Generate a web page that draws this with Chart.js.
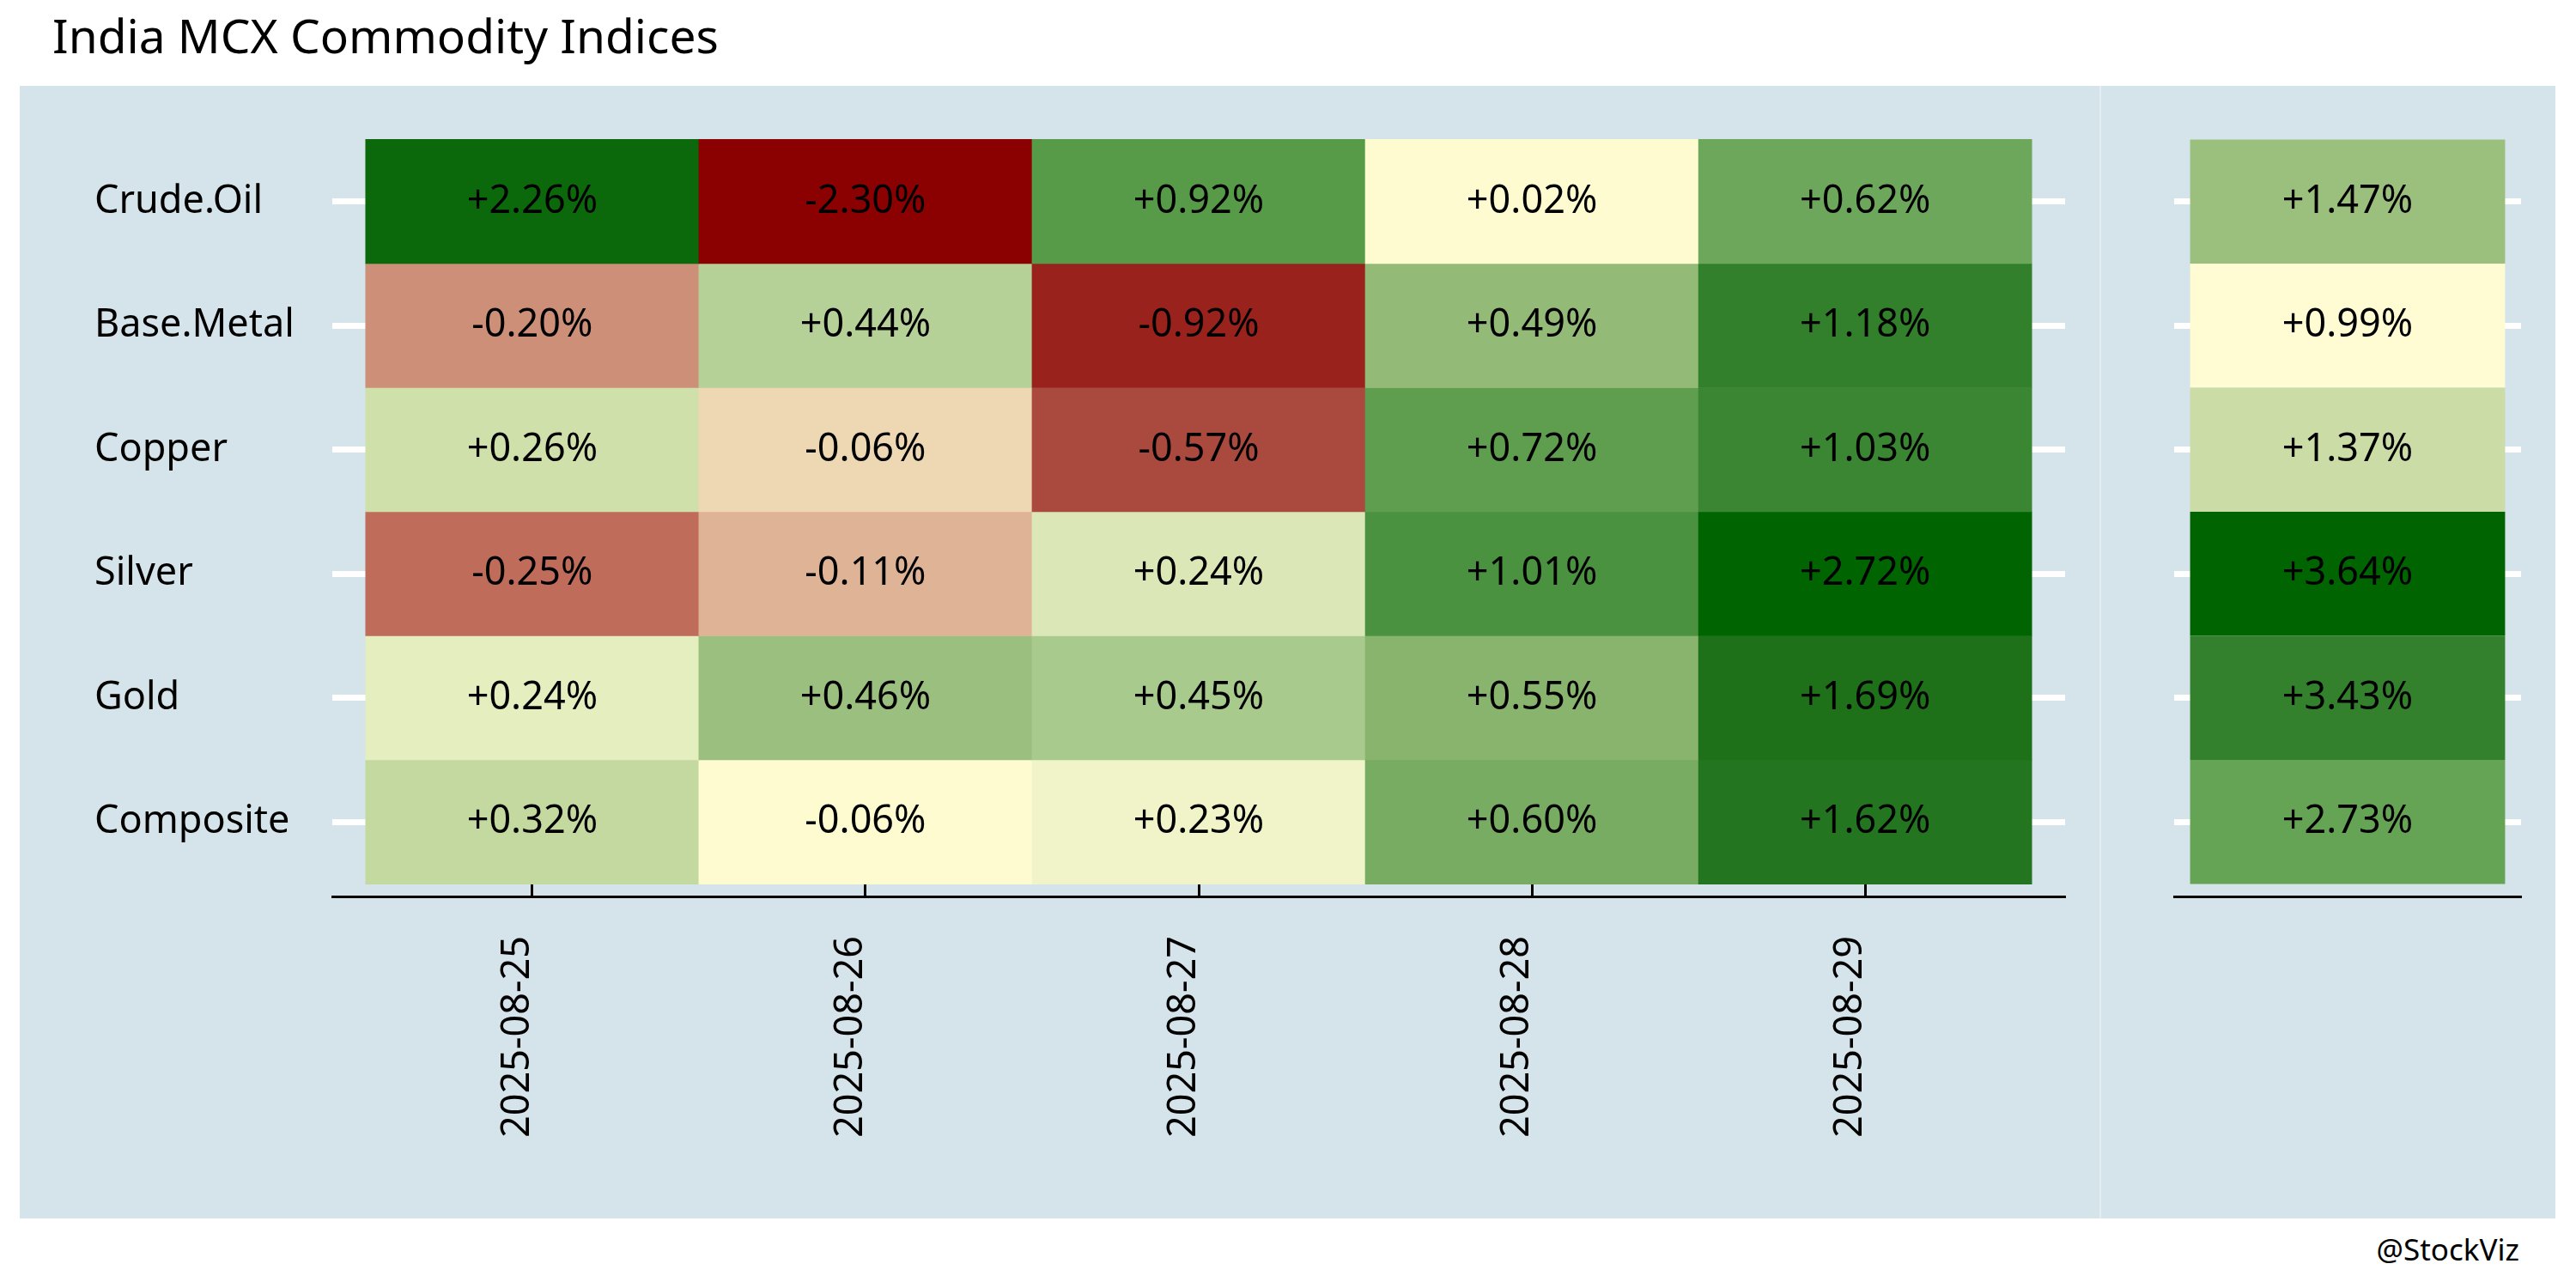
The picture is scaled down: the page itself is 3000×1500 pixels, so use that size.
<!DOCTYPE html>
<html>
<head>
<meta charset="utf-8">
<script src="https://cdn.jsdelivr.net/npm/chart.js@4.4.1/dist/chart.umd.min.js"></script>
<style>
  html, body { margin: 0; padding: 0; background: #fff; }
  body { width: 3000px; height: 1500px; position: relative; overflow: hidden; font-family: "Noto Sans", sans-serif; }
  #title { position: absolute; left: 61px; top: 13px; font-size: 55px; line-height: 1; color: #000; white-space: nowrap; }
  #caption { position: absolute; right: 66px; top: 1437px; font-size: 35px; line-height: 1; color: #000; white-space: nowrap; }
  .panel { position: absolute; top: 100px; height: 1319px; background: #d5e4eb; }
  #leftPanel { left: 23px; width: 2422px; }
  #rightPanel { left: 2447px; width: 529px; }
  #divider { position: absolute; left: 2445px; top: 100px; width: 2px; height: 1319px; background: #e3edf2; }
</style>
</head>
<body>
<div id="title">India MCX Commodity Indices</div>
<div class="panel" id="leftPanel"><canvas id="daily" width="2422" height="1319"></canvas></div>
<div id="divider"></div>
<div class="panel" id="rightPanel"><canvas id="total" width="529" height="1319"></canvas></div>
<div id="caption">@StockViz</div>
<script>
const rowNames = ["Crude.Oil", "Base.Metal", "Copper", "Silver", "Gold", "Composite"];
const dates = ["2025-08-25", "2025-08-26", "2025-08-27", "2025-08-28", "2025-08-29"];

// daily % change, one array per index
const crudeOil  = [2.26, -2.30, 0.92, 0.02, 0.62];
const baseMetal = [-0.20, 0.44, -0.92, 0.49, 1.18];
const copper    = [0.26, -0.06, -0.57, 0.72, 1.03];
const silver    = [-0.25, -0.11, 0.24, 1.01, 2.72];
const gold      = [0.24, 0.46, 0.45, 0.55, 1.69];
const composite = [0.32, -0.06, 0.23, 0.60, 1.62];

// cumulative change over the week
const cumulative = [1.47, 0.99, 1.37, 3.64, 3.43, 2.73];

const rowSeries = [crudeOil, baseMetal, copper, silver, gold, composite];

// tile fills as they appear in the picture
const cellColors = [
  ["#0b690b", "#8b0000", "#579a47", "#fffbd0", "#6da75b"],
  ["#cd8f77", "#b5d197", "#99231c", "#93ba77", "#32802b"],
  ["#d0e0aa", "#eed7b3", "#aa4a3e", "#5f9d4f", "#3b8632"],
  ["#bf6c5b", "#dfb396", "#dbe7b7", "#4a9140", "#006400"],
  ["#e5eebf", "#9bbf7f", "#a8ca8d", "#88b46e", "#1e7119"],
  ["#c3d9a0", "#fffbd0", "#f1f4c9", "#77ac62", "#247520"],
];
const cumColors = ["#9bc07e", "#fffbd2", "#ccdca6", "#006400", "#33812d", "#65a355"];

Chart.defaults.font.family = '"Noto Sans", sans-serif';
Chart.defaults.color = "#000";

const fmt = v => (v >= 0 ? "+" : "") + v.toFixed(2) + "%";

const cellLabels = {
  id: "cellLabels",
  afterDatasetsDraw(chart) {
    const ctx = chart.ctx;
    ctx.save();
    ctx.font = '45px "Noto Sans"';
    ctx.fillStyle = "#000";
    ctx.textAlign = "center";
    ctx.textBaseline = "middle";
    chart.data.datasets.forEach((ds, i) => {
      chart.getDatasetMeta(i).data.forEach((bar, j) => {
        ctx.fillText(fmt(ds.data[j].v), bar.x, (bar.y + bar.base) / 2);
      });
    });
    ctx.restore();
  },
};

function rowAxis(showLabels) {
  return {
    type: "linear",
    reverse: true,
    min: -0.6,
    max: rowNames.length - 0.4,
    afterBuildTicks: s => { s.ticks = rowNames.map((_, i) => ({ value: i })); },
    afterFit: s => { s.width = showLabels ? 277 : 0; },
    ticks: { display: showLabels, callback: v => rowNames[v], font: { size: 45 }, color: "#000", crossAlign: "far", padding: 0 },
    grid: { color: "#ffffff", lineWidth: 7, drawTicks: false },
    border: { display: false },
  };
}

new Chart(document.getElementById("daily"), {
  type: "bar",
  data: {
    datasets: rowSeries.map((vals, r) => ({
      label: rowNames[r],
      data: vals.map((v, c) => ({ x: c, y: [r - 0.5, r + 0.5], v })),
      backgroundColor: cellColors[r],
      borderWidth: 0,
      barPercentage: 1,
      categoryPercentage: 1,
      grouped: false,
    })),
  },
  options: {
    responsive: false,
    animation: false,
    layout: { padding: { left: 87, right: 40, top: 48, bottom: 0 } },
    plugins: { legend: { display: false }, tooltip: { enabled: false } },
    scales: {
      x: {
        type: "linear",
        offset: false,
        min: -0.6,
        max: dates.length - 0.4,
        z: 1,
        afterBuildTicks: s => { s.ticks = dates.map((_, i) => ({ value: i })); },
        afterFit: s => { s.height = 375; },
        ticks: { callback: v => dates[v], autoSkip: false, minRotation: 90, maxRotation: 90, labelOffset: -17, font: { size: 45 }, color: "#000", padding: 66 },
        grid: { offset: false, drawOnChartArea: false, drawTicks: true, tickLength: -20, tickColor: "#000", tickWidth: 3 },
        border: { display: true, color: "#000", width: 3 },
      },
      y: rowAxis(true),
    },
  },
  plugins: [cellLabels],
});

new Chart(document.getElementById("total"), {
  type: "bar",
  data: {
    datasets: [{
      label: "Total",
      data: cumulative.map((v, r) => ({ x: 0, y: [r - 0.5, r + 0.5], v })),
      backgroundColor: cumColors,
      borderWidth: 0,
      barPercentage: 0.908,
      categoryPercentage: 1,
    }],
  },
  options: {
    responsive: false,
    animation: false,
    layout: { padding: { left: 85, right: 40, top: 48, bottom: 0 } },
    plugins: { legend: { display: false }, tooltip: { enabled: false } },
    scales: {
      x: {
        type: "linear",
        offset: false,
        min: -0.55,
        max: 0.55,
        z: 1,
        afterBuildTicks: s => { s.ticks = [{ value: 0 }]; },
        afterFit: s => { s.height = 375; },
        ticks: { display: false },
        grid: { display: false, offset: false },
        border: { display: true, color: "#000", width: 3 },
      },
      y: rowAxis(false),
    },
  },
  plugins: [cellLabels],
});
</script>
</body>
</html>
